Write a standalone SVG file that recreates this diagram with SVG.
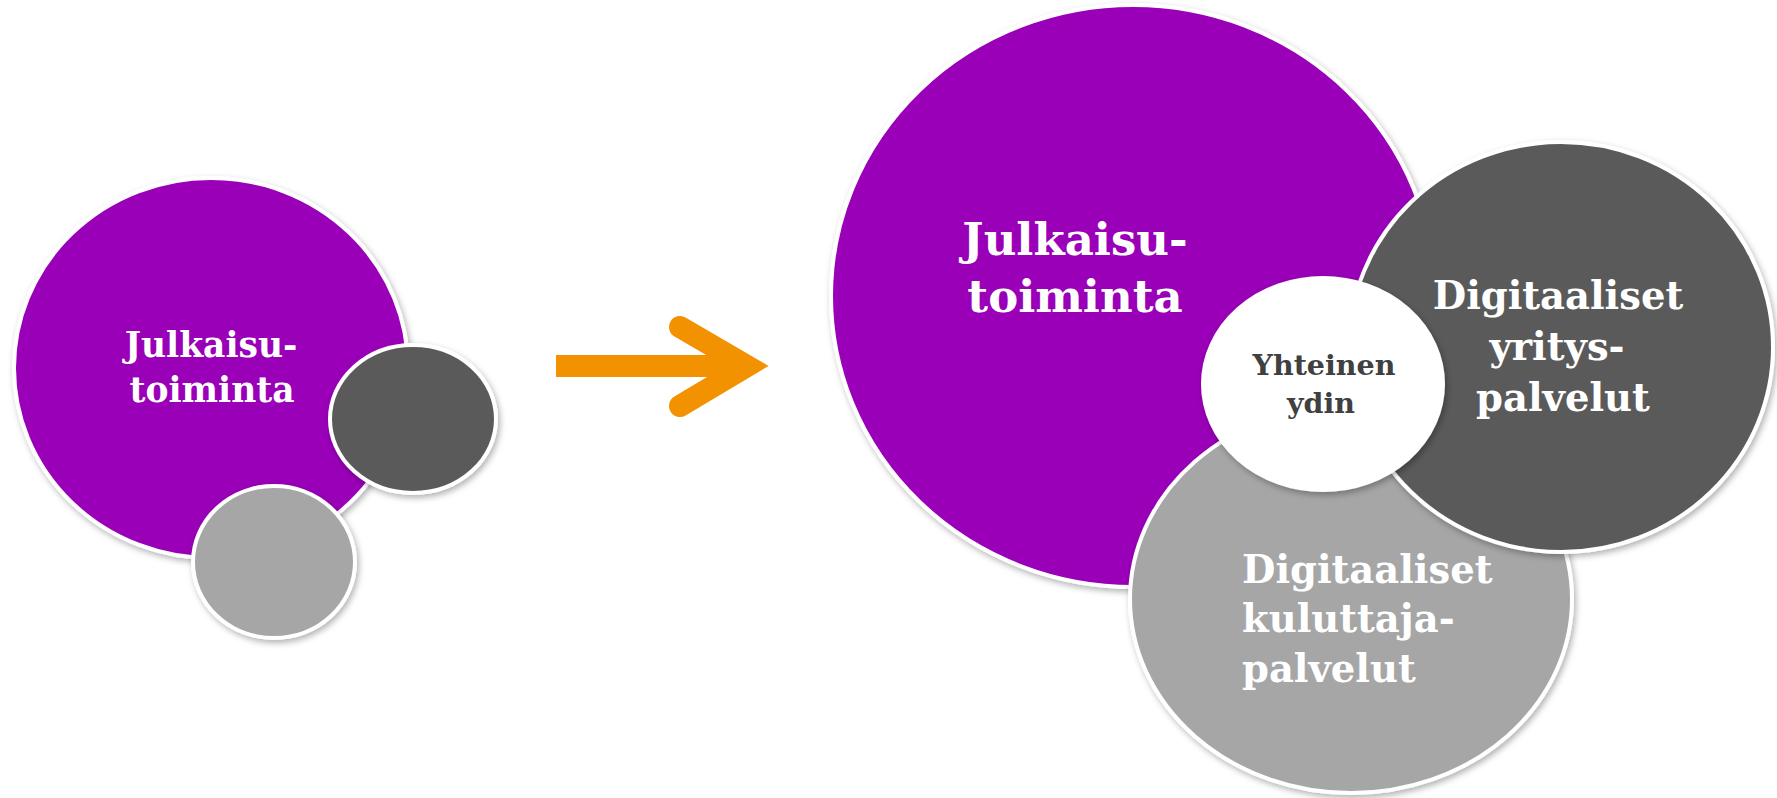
<svg xmlns="http://www.w3.org/2000/svg" width="1777" height="798" viewBox="0 0 1777 798">
  <defs>
    <filter id="sh" x="-10%" y="-10%" width="125%" height="125%">
      <feDropShadow dx="2" dy="3" stdDeviation="3" flood-color="#000" flood-opacity="0.3"/>
    </filter>
  </defs>
  <style>
    .c { stroke: #ffffff; stroke-width: 4; filter: url(#sh); }
    .purple { fill: #9900B8; }
    .dark { fill: #5A5A5A; }
    .light { fill: #A6A6A6; }
    .white { fill: #ffffff; }
    .t { font-family: "DejaVu Serif", "Liberation Serif", serif; font-weight: bold; fill: #ffffff; }
    .mid { text-anchor: middle; }
    .core { fill: #404040; }
  </style>
  <rect width="1777" height="798" fill="#ffffff"/>

  <g id="small-julkaisu">
    <ellipse class="c purple" cx="211" cy="368" rx="197" ry="190"/>
    <text class="t mid" font-size="34.5" x="211" y="357">Julkaisu-</text>
    <text class="t mid" font-size="34.5" x="212" y="402">toiminta</text>
  </g>
  <g id="small-light">
    <ellipse class="c light" cx="274" cy="562" rx="81" ry="76"/>
  </g>
  <g id="small-dark">
    <ellipse class="c dark" cx="413" cy="419" rx="83" ry="74"/>
  </g>

  <g id="connectors">
    <rect x="556" y="355" width="185" height="22" fill="#F39200"/>
    <polyline points="680,327 747,366 680,406" fill="none" stroke="#F39200" stroke-width="22" stroke-linecap="round" stroke-linejoin="miter"/>
  </g>

  <g id="big-julkaisu">
    <ellipse class="c purple" cx="1133" cy="296" rx="302" ry="291"/>
    <text class="t mid" font-size="45" x="1075" y="255">Julkaisu-</text>
    <text class="t mid" font-size="45" x="1075" y="312">toiminta</text>
  </g>
  <g id="kuluttajapalvelut">
    <ellipse class="c light" cx="1351" cy="599" rx="221" ry="194"/>
    <text class="t" font-size="38.5" x="1242" y="583">Digitaaliset</text>
    <text class="t" font-size="38.5" x="1242" y="632">kuluttaja-</text>
    <text class="t" font-size="38.5" x="1242" y="682">palvelut</text>
  </g>
  <g id="yrityspalvelut">
    <ellipse class="c dark" cx="1561" cy="347" rx="212" ry="205"/>
    <text class="t mid" font-size="38.5" x="1558" y="309">Digitaaliset</text>
    <text class="t mid" font-size="38.5" x="1557" y="360">yritys-</text>
    <text class="t mid" font-size="38.5" x="1563" y="411">palvelut</text>
  </g>
  <g id="yhteinen-ydin">
    <ellipse class="c white" cx="1323" cy="384" rx="120" ry="106"/>
    <text class="t mid core" font-size="28.5" x="1324" y="375">Yhteinen</text>
    <text class="t mid core" font-size="28.5" x="1321" y="413">ydin</text>
  </g>
</svg>
